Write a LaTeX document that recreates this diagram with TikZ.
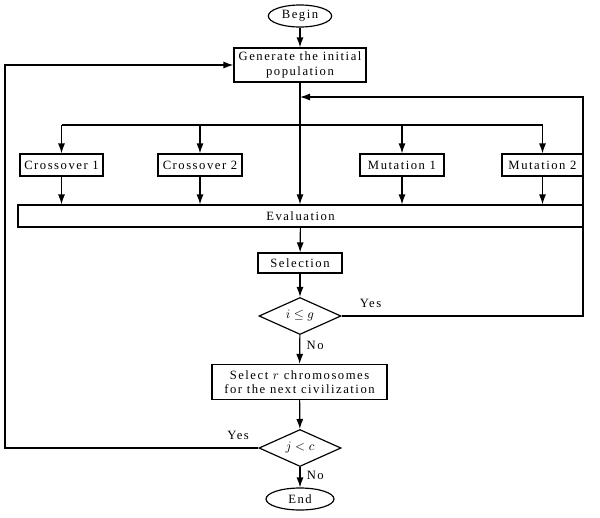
\documentclass[tikz,border=0pt]{standalone}
\usepackage{fontspec}
\setmainfont{Liberation Serif}[LetterSpace=12]
\usetikzlibrary{arrows.meta, positioning, shapes.geometric}

\begin{document}
\begin{tikzpicture}[
  x=0.3mm, y=-0.3mm,
  font=\fontsize{10.8}{12.5}\selectfont,
  box/.style={draw, align=center, inner sep=1pt, minimum height=6.6mm},
  terminal/.style={draw, ellipse, inner sep=0pt, minimum width=19mm, minimum height=6.6mm},
  decision/.style={draw, diamond, aspect=2.2, inner sep=0pt, minimum width=24.6mm, minimum height=11.1mm},
  arrow/.style={-{Latex[length=3mm, width=2.1mm]}},
  line width=1pt
]
\useasboundingbox (0,0) rectangle (600,517);

\node[terminal] (begin) at (300,16) {Begin};
\node[box, minimum width=39.6mm, minimum height=10.2mm] (gen) at (300,65) {Generate the initial\\population};
\coordinate (back) at (300,97);
\coordinate (fork) at (300,125);
\node[box, minimum width=24.9mm] (cx1) at (61.5,165) {Crossover 1};
\node[box, minimum width=25.2mm] (cx2) at (200,165) {Crossover 2};
\node[box, minimum width=25.2mm] (mu1) at (402,165) {Mutation 1};
\node[box, minimum width=24.3mm] (mu2) at (542.5,165) {Mutation 2};
\node[box, minimum width=169.5mm] (eval) at (300.5,216) {Evaluation};
\node[box, minimum width=25.2mm, minimum height=6mm] (sel) at (300,263) {Selection};
\node[decision] (dec1) at (300,316) {$i \le g$};
\node[box, minimum width=52.5mm, minimum height=10.5mm] (next) at (299.5,382) {Select $r$ chromosomes\\for the next civilization};
\node[decision] (dec2) at (300,448) {$j < c$};
\node[terminal, minimum width=20.4mm] (end) at (300,499) {End};
\coordinate (right) at (583,97);
\coordinate (left) at (5,65);

\draw[arrow] (begin) -- (gen);
\draw (gen) -- (fork);
\draw (fork -| cx1) -- (fork -| mu2);
\foreach \n in {cx1, cx2, mu1, mu2} {
  \draw[arrow] (fork -| \n) -- (\n);
  \draw[arrow] (\n) -- (\n |- eval.north);
}
\draw[arrow] (fork) -- (fork |- eval.north);
\draw[arrow] (eval) -- (sel);
\draw[arrow] (sel) -- (dec1);
\draw[arrow] (dec1) -- node[right, pos=0.35, xshift=2pt]{No} (next);
\draw[arrow] (next) -- (dec2);
\draw[arrow] (dec2) -- node[right, pos=0.4, xshift=2pt]{No} (end);
\draw[arrow] (dec1.east) -| node[above, pos=0.06, yshift=3pt]{Yes} (right) -- (back);
\draw[arrow] (dec2.west) -| node[above, pos=0.04, yshift=3pt]{Yes} (left) -- (gen.west);

\end{tikzpicture}
\end{document}
